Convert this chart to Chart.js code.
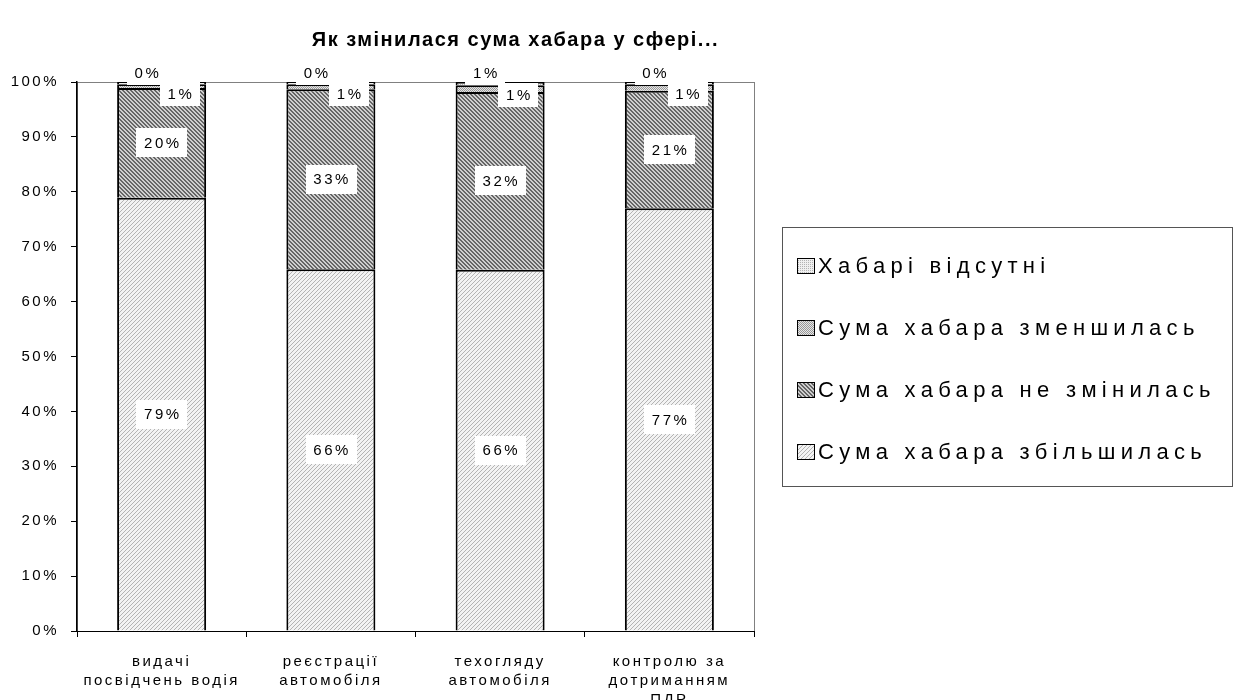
<!DOCTYPE html>
<html>
<head>
<meta charset="utf-8">
<script src="https://cdn.jsdelivr.net/npm/chart.js@4.4.1/dist/chart.umd.min.js"></script>
<style>
html,body{margin:0;padding:0;background:#fff;}
#wrap{width:1233px;height:700px;position:relative;}
</style>
</head>
<body>
<div id="wrap"><canvas id="c" width="1233" height="700"></canvas></div>
<script>
// ---- data ----
const categories = [
  ['видачі', 'посвідчень водія'],
  ['реєстрації', 'автомобіля'],
  ['техогляду', 'автомобіля'],
  ['контролю за', 'дотриманням', 'ПДР']
];
const seriesNames = ['Сума хабара збільшилась', 'Сума хабара не змінилась', 'Сума хабара зменшилась', 'Хабарі відсутні'];
const increased = [78.9, 65.9, 65.8, 77.0];
const unchanged = [20.0, 32.8, 32.4, 21.4];
const decreased = [0.7, 0.9, 1.2, 1.2];
const absent    = [0.4, 0.4, 0.6, 0.4];
const yTickValues = [0, 10, 20, 30, 40, 50, 60, 70, 80, 90, 100];
const titleText = 'Як змінилася сума хабара у сфері...';

const FONT = '"Liberation Sans", Arial, sans-serif';

// ---- patterns ----
function makePattern(size, bg, fg, pixelFn) {
  const c = document.createElement('canvas');
  c.width = size; c.height = size;
  const x = c.getContext('2d');
  x.fillStyle = bg; x.fillRect(0, 0, size, size);
  x.fillStyle = fg;
  for (let i = 0; i < size; i++) for (let j = 0; j < size; j++) if (pixelFn(i, j)) x.fillRect(i, j, 1, 1);
  return x.createPattern(c, 'repeat');
}
const patIncreased = makePattern(4, '#f3f3f3', '#b4b4b4', (i, j) => (i + j) % 4 === 3);
const patUnchanged = makePattern(4, '#cfcfcf', '#666666', (i, j) => ((i - j + 8) % 4 === 0) || ((i - j + 8) % 4 === 1));
const patDecreased = makePattern(2, '#e6e6e6', '#999999', (i, j) => (i + j) % 2 === 0);
const patAbsent    = makePattern(2, '#f0f0f0', '#b4b4b4', (i, j) => (i === 0 && j === 0));
const patterns = [patIncreased, patUnchanged, patDecreased, patAbsent];
const seriesData = [increased, unchanged, decreased, absent];

// ---- plugins ----
const plotFrame = {
  id: 'plotFrame',
  beforeDraw(chart) {
    const {ctx, chartArea: a} = chart;
    ctx.save();
    ctx.strokeStyle = '#808080';
    ctx.lineWidth = 1;
    ctx.strokeRect(a.left + 0.5, a.top + 0.5, a.right - a.left, a.bottom - a.top);
    ctx.restore();
    ctx.letterSpacing = '2.5px';
  },
  afterDatasetsDraw(chart) {
    const ctx = chart.ctx;
    ctx.save();
    ctx.font = '15px ' + FONT;
    ctx.letterSpacing = '2.5px';
    ctx.textAlign = 'center';
    ctx.textBaseline = 'middle';
    for (let d = 0; d < chart.data.datasets.length; d++) {
      const meta = chart.getDatasetMeta(d);
      meta.data.forEach((el, i) => {
        const v = chart.data.datasets[d].data[i];
        const txt = Math.round(v) + '%';
        let cx = el.x, cy;
        if (d <= 1) { cy = (el.y + el.base) / 2; }
        else if (d === 2) { cx = el.x + 18; cy = el.y + 10; }
        else { cx = el.x - 15; cy = el.y - 9; }
        const w = ctx.measureText(txt).width + 13;
        const h = d <= 1 ? 29 : 24;
        ctx.fillStyle = '#fff';
        ctx.fillRect(Math.round(cx - w / 2), Math.round(cy - h / 2), Math.round(w), h);
        ctx.fillStyle = '#000';
        ctx.fillText(txt, cx + 1.25, cy + 1);
      });
    }
    ctx.restore();
  },
  afterDraw(chart) {
    const ctx = chart.ctx;
    const a = chart.chartArea;
    // title
    ctx.save();
    ctx.font = 'bold 20px ' + FONT;
    ctx.letterSpacing = '1.5px';
    ctx.textAlign = 'center';
    ctx.textBaseline = 'middle';
    ctx.fillStyle = '#000';
    ctx.fillText(titleText, chart.width * 0.418, 40);
    ctx.restore();
    // legend
    ctx.save();
    const lx = a.right + 28, lw = chart.width - lx - 1;
    const lh = 259;
    const ly = Math.round((a.top + a.bottom) / 2 - lh / 2);
    ctx.strokeStyle = '#555';
    ctx.lineWidth = 1;
    ctx.strokeRect(lx + 0.5, ly + 0.5, lw, lh);
    ctx.font = '22px ' + FONT;
    ctx.letterSpacing = '5.3px';
    ctx.textAlign = 'left';
    ctx.textBaseline = 'middle';
    const order = [3, 2, 1, 0];
    order.forEach((d, k) => {
      const cy = ly + 39 + k * 62;
      const bx = lx + 15, bw = 18, bh = 16;
      ctx.fillStyle = patterns[d];
      ctx.fillRect(bx, cy - bh / 2, bw, bh);
      ctx.strokeStyle = '#000';
      ctx.lineWidth = 1;
      ctx.strokeRect(bx + 0.5, cy - bh / 2 + 0.5, bw - 1, bh - 1);
      ctx.fillStyle = '#000';
      ctx.fillText(seriesNames[d], bx + bw + 3, cy + 1);
    });
    ctx.restore();
  }
};

new Chart(document.getElementById('c'), {
  type: 'bar',
  data: {
    labels: categories,
    datasets: seriesNames.map((name, d) => ({
      label: name,
      data: seriesData[d],
      backgroundColor: patterns[d],
      borderColor: '#000',
      borderWidth: 2,
      barPercentage: 0.526,
      categoryPercentage: 1.0
    }))
  },
  options: {
    responsive: false,
    devicePixelRatio: 1,
    animation: false,
    layout: { padding: { top: 82, right: 479, left: 0, bottom: 0 } },
    plugins: {
      legend: { display: false },
      title: { display: false },
      tooltip: { enabled: false }
    },
    scales: {
      x: {
        stacked: true,
        grid: { offset: true, drawOnChartArea: false, tickLength: 6, color: '#000', lineWidth: 1 },
        border: { color: '#000', width: 1 },
        ticks: { color: '#000', font: { family: FONT, size: 15, lineHeight: 1.27 }, padding: 15, maxRotation: 0, minRotation: 0, autoSkip: false },
        afterFit(scale) { scale.height = 69; }
      },
      y: {
        stacked: true,
        min: 0,
        max: 100,
        afterBuildTicks(scale) { scale.ticks = yTickValues.map(v => ({ value: v })); },
        grid: { drawOnChartArea: false, tickLength: 6, color: '#000', lineWidth: 1 },
        border: { color: '#000', width: 1.5 },
        ticks: { color: '#000', font: { family: FONT, size: 15 }, padding: 12, callback: v => v + '%' },
        afterFit(scale) { scale.width = 77; }
      }
    }
  },
  plugins: [plotFrame]
});
</script>
</body>
</html>
